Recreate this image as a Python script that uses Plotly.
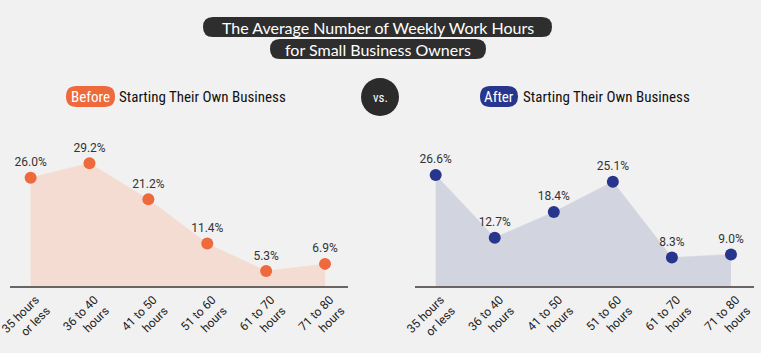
import plotly.graph_objects as go

W, H = 761, 353
categories = ["35 hours<br>or less", "36 to 40<br>hours", "41 to 50<br>hours",
              "51 to 60<br>hours", "61 to 70<br>hours", "71 to 80<br>hours"]
before_vals = [26.0, 29.2, 21.2, 11.4, 5.3, 6.9]
after_vals = [26.6, 12.7, 18.4, 25.1, 8.3, 9.0]

BG = "#f1f1f1"
ORANGE = "#ee6a3c"
ORANGE_FILL = "#f4dcd2"
NAVY = "#27368c"
NAVY_FILL = "#d2d4df"
DARK = "#2e2e2e"
COND = "Roboto Condensed, Liberation Sans Narrow, Roboto, sans-serif"


def px(x):
    return x / W


def py(y):
    return 1 - y / H


def rounded(x0, y0, x1, y1, r, color):
    # pixel coords -> paper coords path with rounded corners
    P = lambda x, y: f"{px(x):.5f},{py(y):.5f}"
    d = (f"M {P(x0 + r, y0)} L {P(x1 - r, y0)} Q {P(x1, y0)} {P(x1, y0 + r)} "
         f"L {P(x1, y1 - r)} Q {P(x1, y1)} {P(x1 - r, y1)} "
         f"L {P(x0 + r, y1)} Q {P(x0, y1)} {P(x0, y1 - r)} "
         f"L {P(x0, y0 + r)} Q {P(x0, y0)} {P(x0 + r, y0)} Z")
    return dict(type="path", path=d, xref="paper", yref="paper",
                fillcolor=color, line=dict(width=0), layer="below")


def label(text, x, y, size, color, family, xanchor="center"):
    return dict(text=text, x=px(x), y=py(y), xref="paper", yref="paper",
                xanchor=xanchor, yanchor="middle", showarrow=False,
                font=dict(family=family, size=size, color=color))


fig = go.Figure()

for vals, col, fillc, xa, ya in [(before_vals, ORANGE, ORANGE_FILL, "x", "y"),
                                 (after_vals, NAVY, NAVY_FILL, "x2", "y2")]:
    fig.add_trace(go.Scatter(
        x=categories, y=vals, xaxis=xa, yaxis=ya,
        mode="lines", fill="tozeroy", fillcolor=fillc,
        line=dict(color=fillc, width=0.5), hoverinfo="skip", showlegend=False))
    fig.add_trace(go.Scatter(
        x=categories, y=vals, xaxis=xa, yaxis=ya,
        mode="markers+text", marker=dict(color=col, size=12),
        text=[f"{v:.1f}%" for v in vals], textposition="top center",
        textfont=dict(family="Roboto", size=12, color="#333333"),
        cliponaxis=False, showlegend=False))

xcommon = dict(type="category", range=[-0.35, 5.39], showline=True, linecolor="#6a6464",
               linewidth=2, ticks="", showgrid=False, zeroline=False, tickangle=-45,
               automargin=False, ticklabelshift=5,
               tickfont=dict(family="Roboto", size=12, color="#222222"), fixedrange=True)
ycommon = dict(range=[2, 35], visible=False, showgrid=False, zeroline=False,
               automargin=False, fixedrange=True)

shapes = [
    rounded(203, 17, 552, 37, 10, DARK),
    rounded(270, 39, 486, 59, 10, DARK),
    dict(type="circle", xref="paper", yref="paper", x0=px(361), x1=px(399),
         y0=py(116), y1=py(78), fillcolor="#2b2b2b", line=dict(width=0)),
    rounded(66, 86, 115, 107, 10.5, ORANGE),
    rounded(480, 86, 518, 107, 10.5, NAVY),
]

annotations = [
    label("The Average Number of Weekly Work Hours", 377.5, 27, 16, "white", "Lato"),
    label("for Small Business Owners", 378, 49, 16, "white", "Lato"),
    label("vs.", 380, 97, 13, "white", COND),
    label("Before", 90.5, 97, 15, "white", COND),
    label("Starting Their Own Business", 117, 97, 15, "#111111", COND, "left"),
    label("After", 499, 97, 15, "white", COND),
    label("Starting Their Own Business", 521, 97, 15, "#111111", COND, "left"),
]

fig.update_layout(
    width=W, height=H, margin=dict(l=0, r=0, t=0, b=0, autoexpand=False),
    paper_bgcolor=BG, plot_bgcolor=BG,
    xaxis=dict(domain=[px(10), px(348)], anchor="y", **xcommon),
    xaxis2=dict(domain=[px(415), px(754)], anchor="y2", **xcommon),
    yaxis=dict(domain=[py(286), py(137)], anchor="x", **ycommon),
    yaxis2=dict(domain=[py(286), py(137)], anchor="x2", **ycommon),
    shapes=shapes, annotations=annotations, showlegend=False,
)

fig.write_html("out.html")
